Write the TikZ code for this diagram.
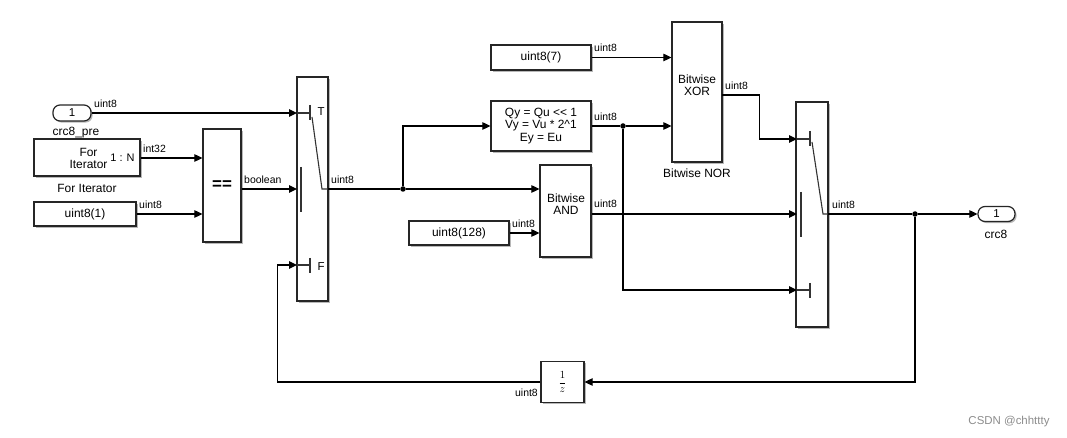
\documentclass[tikz,border=0pt]{standalone}
\usepackage{fontspec}
\setmainfont{Liberation Sans}
\usetikzlibrary{arrows.meta,shadows,calc}
\begin{document}
\begin{tikzpicture}[x=1bp,y=-1bp,
  blk/.style={draw=black!85, line width=1.2bp, fill=white, inner sep=0pt, align=center,
     font=\fontsize{12}{12.5}\selectfont,
     drop shadow={shadow xshift=1.6bp, shadow yshift=-1.6bp, fill=black, opacity=0.28}},
  port/.style={blk, rounded corners=7bp, font=\fontsize{11.5}{12}\selectfont},
  sig/.style={line width=1.1bp, -{Triangle[length=8bp,width=7.5bp]}},
  wire/.style={line width=1.1bp},
  lbl/.style={font=\fontsize{10.5}{11}\selectfont, inner sep=0pt, anchor=west},
  captxt/.style={font=\fontsize{12}{12}\selectfont, inner sep=0pt, align=center},
  dot/.style={circle, fill=black, inner sep=0pt, minimum size=5.5bp},
  swl/.style={line width=1.1bp, black!80}
]
\useasboundingbox (0,0) rectangle (1067,438);

% ---- blocks ----
\node[port, minimum width=38bp, minimum height=16bp] (inp) at (72,113) {1};
\node[captxt] (inpcap) at (76,133) {crc8\_pre};
\node[blk, minimum width=106bp, minimum height=37bp] (fori) at (87,157.5) {};
\node[captxt] (foritxt) at (88.5,158) {For\\Iterator};
\node[captxt, font=\fontsize{11}{12}\selectfont] (forin) at (122.5,158) {1 : N};
\node[captxt] (foricap) at (87,188) {For Iterator};
\node[blk, minimum width=102bp, minimum height=24bp] (c1) at (85,214) {uint8(1)};
\node[blk, minimum width=38bp, minimum height=113bp, font=\fontsize{17}{18}\selectfont\bfseries] (eq) at (222,185.5) {==};
\node[blk, minimum width=31bp, minimum height=224bp] (sw1) at (312.5,189) {};

\node[blk, minimum width=100bp, minimum height=25bp] (c7) at (541,57.5) {uint8(7)};
\node[blk, minimum width=100bp, minimum height=50bp] (shift) at (541,126) {Qy = Qu <\kern0pt< 1\\Vy = Vu * 2\textasciicircum 1\\Ey = Eu};
\node[blk, minimum width=50bp, minimum height=140bp] (xor) at (697,92) {};
\node[captxt] (xortxt) at (697,85.5) {Bitwise\\XOR};
\node[captxt] (xorcap) at (697,173) {Bitwise NOR};
\node[blk, minimum width=51bp, minimum height=92bp] (andb) at (565.5,211) {};
\node[captxt] (andtxt) at (566,204.5) {Bitwise\\AND};
\node[blk, minimum width=100bp, minimum height=24bp] (c128) at (459,233) {uint8(128)};
\node[blk, minimum width=32bp, minimum height=225bp] (sw2) at (812,214.5) {};
\node[port, minimum width=37bp, minimum height=15bp] (outp) at (996.5,214) {1};
\node[captxt] (outcap) at (996,234) {crc8};
\node[blk, minimum width=43bp, minimum height=41bp, font=\fontsize{11}{12}\selectfont] (ud) at (562.5,382) {$\displaystyle\frac{1}{z}$};

% ---- ports of the switches ----
\coordinate (s1T) at (297,113);
\coordinate (s1C) at (297,189);
\coordinate (s1F) at (297,265);
\coordinate (s1O) at (328,189);
\coordinate (s2T) at (797,139);
\coordinate (s2C) at (797,214);
\coordinate (s2F) at (797,290);
\coordinate (s2O) at (828,214);
\coordinate (xo) at (722,95);
\coordinate (fb) at (277.5,382);

% ---- switch internals ----
\draw[swl] (s1T) -- ++(13,0) (310,105) -- (310,120);
\draw[swl] (312,117) -- (322,189) -- (s1O);
\draw[swl] (301,167) -- (301,212);
\draw[swl] (s1F) -- ++(13,0) (310,258) -- (310,273);
\node[captxt, font=\fontsize{11.5}{12}\selectfont] (tT) at (321,112) {T};
\node[captxt, font=\fontsize{11.5}{12}\selectfont] (tF) at (321,267) {F};

\draw[swl] (s2T) -- ++(13,0) (810,131) -- (810,146);
\draw[swl] (812,142) -- (823,214) -- (s2O);
\draw[swl] (801,192) -- (801,237);
\draw[swl] (s2F) -- ++(13,0) (810,283) -- (810,298);

% ---- junctions ----
\node[dot] (j1) at (403,189) {};
\node[dot] (j2) at (623,126) {};
\node[dot] (j3) at (915,214) {};

% ---- connectors ----
\draw[sig] (inp.east) -- (s1T);
\draw[sig] (fori.east |- forin) -- (forin -| eq.west);
\draw[sig] (c1.east) -- (c1.east -| eq.west);
\draw[sig] (eq.east |- s1C) -- (s1C);
\draw[wire] (s1O) -- (j1);
\draw[sig] (j1) |- (shift.west);
\draw[sig] (j1) -- (j1 -| andb.west);
\draw[sig] (c7.east) -- (c7.east -| xor.west);
\draw[wire] (shift.east) -- (j2);
\draw[sig] (j2) -- (j2 -| xor.west);
\draw[sig] (c128.east) -- (c128.east -| andb.west);
\draw[sig] (xo) -| ($(xo)!0.5!(s2T)$) |- (s2T);
\draw[sig] (andb.east |- s2C) -- (s2C);
\draw[sig] (j2) |- (s2F);
\draw[wire] (s2O) -- (j3);
\draw[sig] (j3) -- (j3 -| outp.west);
\draw[sig] (j3) |- (ud.east);
\draw[sig] (ud.west) -- (fb) |- (s1F);

% ---- signal labels ----
\node[lbl] (l1) at (94,104) {uint8};
\node[lbl] (l2) at (143,149) {int32};
\node[lbl] (l3) at (139,205) {uint8};
\node[lbl] (l4) at (244,180) {boolean};
\node[lbl] (l5) at (331,180) {uint8};
\node[lbl] (l6) at (594,48) {uint8};
\node[lbl] (l7) at (594,117) {uint8};
\node[lbl] (l8) at (594,204) {uint8};
\node[lbl] (l9) at (512,224) {uint8};
\node[lbl] (l10) at (725,86) {uint8};
\node[lbl] (l11) at (832,205) {uint8};
\node[lbl, anchor=east] (l12) at (538,393) {uint8};

\node[font=\fontsize{11.5}{12}\selectfont, text=black!45, inner sep=0pt] (wm) at (1009,422) {CSDN @chhttty};
\end{tikzpicture}
\end{document}
